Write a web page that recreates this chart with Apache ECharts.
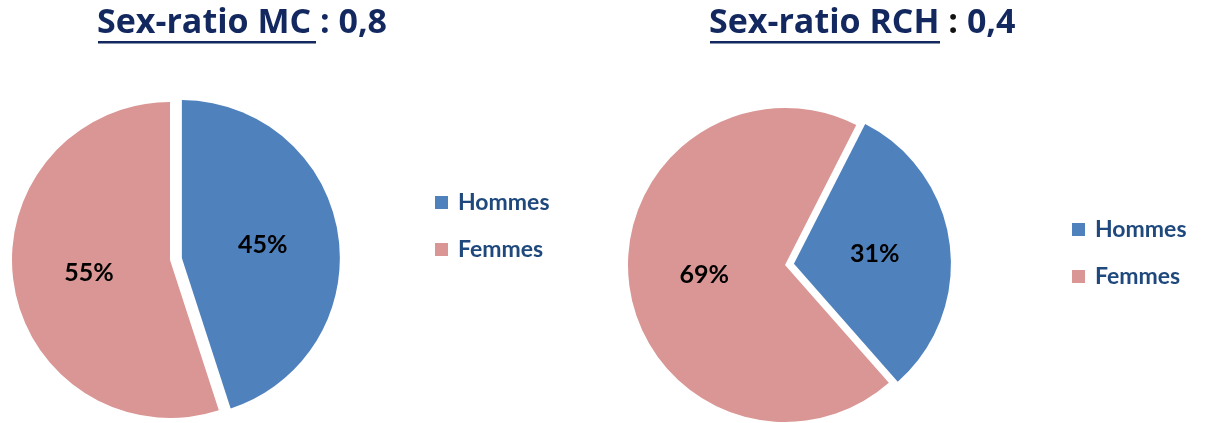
<!DOCTYPE html>
<html>
<head>
<meta charset="utf-8">
<script src="https://cdn.jsdelivr.net/npm/echarts@6/dist/echarts.min.js"></script>
<style>
  html, body { margin: 0; padding: 0; background: #fff; }
  #chart { width: 1208px; height: 423px; }
</style>
</head>
<body>
<div id="chart"></div>
<script>
var sexes = ['Hommes', 'Femmes'];
var mcValues = [45, 55];
var rchValues = [31, 69];
var titles = ['Sex-ratio MC', 'Sex-ratio RCH'];
var ratios = ['0,8', '0,4'];
var colors = ['#4F81BD', '#D99694'];

var chart = echarts.init(document.getElementById('chart'));

function pieData(values) {
    return sexes.map(function (name, i) {
        return { name: name, value: values[i], selected: i === 0 };
    });
}

function legendAt(left, top) {
    return {
        orient: 'vertical',
        left: left,
        top: top,
        icon: 'rect',
        itemWidth: 13,
        itemHeight: 13,
        itemGap: 24,
        selectedMode: false,
        data: sexes,
        textStyle: {
            fontFamily: 'Lato',
            fontWeight: 'bold',
            fontSize: 23,
            color: '#1F497D',
            padding: [0, 0, 0, 5]
        }
    };
}

var titleFont = { fontFamily: 'Open Sans', fontWeight: 'bold', fontSize: 34 };
var titleRich = {
    u: Object.assign({ color: '#12285F' }, titleFont),
    n: Object.assign({ color: '#12285F' }, titleFont),
    c: Object.assign({ color: '#111111' }, titleFont)
};

var labelStyle = {
    show: true,
    position: 'inner',
    formatter: '{c}%',
    fontFamily: 'Lato',
    fontWeight: 'bold',
    fontSize: 25,
    color: '#000'
};

var option = {
    animation: false,
    color: colors,
    title: [
        {
            text: '{u|' + titles[0] + '}{n| : ' + ratios[0] + '}',
            left: 97, top: 6, padding: 0,
            textStyle: { rich: titleRich }
        },
        {
            text: '{u|' + titles[1] + '}{c| :}{n| ' + ratios[1] + '}',
            left: 709, top: 6, padding: 0,
            textStyle: { rich: titleRich }
        }
    ],
    legend: [legendAt(430, 186), legendAt(1067, 213)],
    graphic: [
        { type: 'rect', shape: { x: 98, y: 41, width: 218, height: 2.5 }, style: { fill: '#12285F' } },
        { type: 'rect', shape: { x: 710, y: 41, width: 230, height: 2.5 }, style: { fill: '#12285F' } }
    ],
    series: [
        {
            name: 'MC',
            type: 'pie',
            center: [170, 260],
            radius: 158,
            startAngle: 90,
            selectedMode: 'single',
            selectedOffset: 12,
            silent: true,
            label: labelStyle,
            labelLine: { show: false },
            data: pieData(mcValues)
        },
        {
            name: 'RCH',
            type: 'pie',
            center: [785, 265],
            radius: 157,
            startAngle: 63,
            selectedMode: 'single',
            selectedOffset: 9,
            silent: true,
            label: labelStyle,
            labelLine: { show: false },
            data: pieData(rchValues)
        }
    ]
};
chart.setOption(option);
</script>
</body>
</html>
